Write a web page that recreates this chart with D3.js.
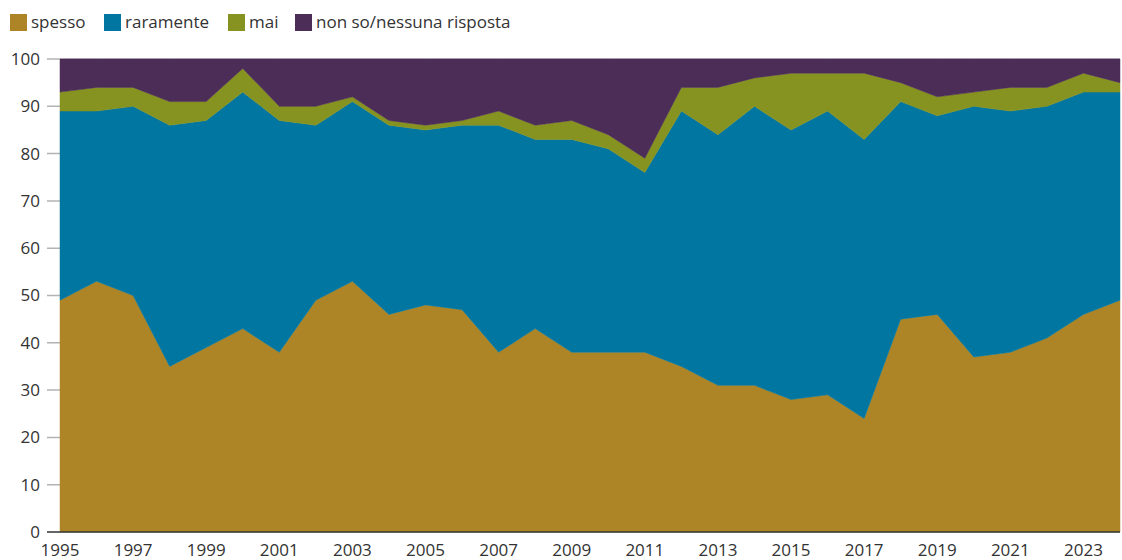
<!DOCTYPE html>
<html>
<head>
<meta charset="utf-8">
<script src="https://cdn.jsdelivr.net/npm/d3@7"></script>
<style>
  body { margin: 0; background: #fff; }
  text { font-family: "Open Sans", sans-serif; }
</style>
</head>
<body>
<script>
// data (percent)
var years = d3.range(1995, 2025);
var spesso =    [49,53,50,35,39,43,38,49,53,46,48,47,38,43,38,38,38,35,31,31,28,29,24,45,46,37,38,41,46,49];
var raramente = [40,36,40,51,48,50,49,37,38,40,37,39,48,40,45,43,38,54,53,59,57,60,59,46,42,53,51,49,47,44];
var mai =       [ 4, 5, 4, 5, 4, 5, 3, 4, 1, 1, 1, 1, 3, 3, 4, 3, 3, 5,10, 6,12, 8,14, 4, 4, 3, 5, 4, 4, 2];
var nonSo =     [ 7, 6, 6, 9, 9, 2,10,10, 8,13,14,13,11,14,13,16,21, 6, 6, 4, 3, 3, 3, 5, 8, 7, 6, 6, 3, 5];
var seriesNames = ["spesso", "raramente", "mai", "non so/nessuna risposta"];
var colors = ["#ad8527", "#0076a0", "#879321", "#4b2d57"];
var yTicks = d3.range(0, 101, 10);
var xTicks = d3.range(1995, 2024, 2);

var W = 1122, H = 560;
var svg = d3.select("body").append("svg").attr("width", W).attr("height", H);

var x = d3.scaleLinear().domain([1995, 2024]).range([60, 1120]);
var y = d3.scaleLinear().domain([0, 100]).range([532, 59]);

// build rows for the stack
var rows = years.map(function (yr, i) {
  return { year: yr, spesso: spesso[i], raramente: raramente[i], mai: mai[i], nonso: nonSo[i] };
});
var keys = ["spesso", "raramente", "mai", "nonso"];
var stacked = d3.stack().keys(keys)(rows);

// gridlines
svg.append("g").selectAll("line")
  .data(yTicks.filter(function (d) { return d > 0; }))
  .enter().append("line")
  .attr("x1", 47).attr("x2", 1120)
  .attr("y1", function (d) { return y(d); })
  .attr("y2", function (d) { return y(d); })
  .style("stroke", "#b3b3b3").style("stroke-width", 1.5);

var area = d3.area()
  .x(function (d) { return x(d.data.year); })
  .y0(function (d) { return y(d[0]); })
  .y1(function (d) { return y(d[1]); });

svg.append("g").selectAll("path")
  .data(stacked)
  .enter().append("path")
  .attr("d", area)
  .style("fill", function (d, i) { return colors[i]; })
  .style("stroke", function (d, i) { return colors[i]; })
  .style("stroke-width", 0.5);

// y axis labels
svg.append("g").selectAll("text")
  .data(yTicks)
  .enter().append("text")
  .attr("x", 40)
  .attr("y", function (d) { return y(d); })
  .attr("dy", "0.35em")
  .attr("text-anchor", "end")
  .style("font-size", "17px")
  .style("fill", "#333")
  .text(function (d) { return d; });

// baseline
svg.append("line")
  .attr("x1", 47).attr("x2", 1120)
  .attr("y1", y(0)).attr("y2", y(0))
  .style("stroke", "#333").style("stroke-width", 1.5);

// x axis labels
svg.append("g").selectAll("text")
  .data(xTicks)
  .enter().append("text")
  .attr("x", function (d) { return x(d); })
  .attr("y", 556)
  .attr("text-anchor", "middle")
  .style("font-size", "17px")
  .style("fill", "#333")
  .text(function (d) { return d; });

// legend
var legX = [10, 104, 228, 295];
var leg = svg.append("g").selectAll("g")
  .data(seriesNames)
  .enter().append("g")
  .attr("transform", function (d, i) { return "translate(" + legX[i] + ",14)"; });
leg.append("rect")
  .attr("width", 17).attr("height", 17)
  .style("fill", function (d, i) { return colors[i]; });
leg.append("text")
  .attr("x", 21).attr("y", 14)
  .style("font-size", "17px")
  .style("fill", "#333")
  .text(function (d) { return d; });
</script>
</body>
</html>
